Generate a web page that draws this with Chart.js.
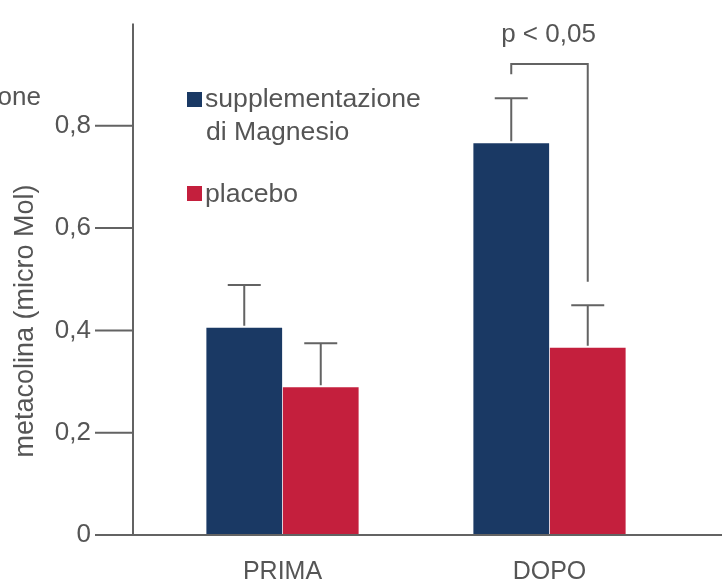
<!DOCTYPE html>
<html>
<head>
<meta charset="utf-8">
<script src="https://cdn.jsdelivr.net/npm/chart.js@4.4.1/dist/chart.umd.min.js"></script>
<style>
  html, body { margin: 0; padding: 0; background: #fff; }
  #wrap { width: 722px; height: 583px; }
</style>
</head>
<body>
<div id="wrap"><canvas id="grafico"></canvas></div>
<script>
// dati
const categorie = ['PRIMA', 'DOPO'];
const serie = ['supplementazione\ndi Magnesio', 'placebo'];
const magnesio = [0.405, 0.766];
const magnesioErr = [0.489, 0.854];
const placebo = [0.289, 0.366];
const placeboErr = [0.375, 0.449];
const yTicks = [0, 0.2, 0.4, 0.6, 0.8];
// parentesi di significatività (DOPO): livello alto, estremo sinistro, estremo destro
const parentesi = [0.921, 0.901, 0.495];
const pTesto = 'p < 0,05';

const grigio = '#636363';
const testo = '#555555';
const blu = '#1a3964';
const rosso = '#c41f3d';
const font = '"Liberation Sans", Arial, sans-serif';

const extra = {
  id: 'extra',
  afterDatasetsDraw(chart) {
    const ctx = chart.ctx;
    const y = chart.scales.y;
    const area = chart.chartArea;
    const m0 = chart.getDatasetMeta(0).data;
    const m1 = chart.getDatasetMeta(1).data;
    ctx.save();
    ctx.strokeStyle = grigio;
    ctx.lineWidth = 2;

    // barre d'errore
    const errori = [[m0, magnesioErr], [m1, placeboErr]];
    errori.forEach(([bars, err]) => {
      bars.forEach((b, i) => {
        const yt = y.getPixelForValue(err[i]);
        ctx.beginPath();
        ctx.moveTo(b.x, b.y - 2);
        ctx.lineTo(b.x, yt);
        ctx.moveTo(b.x - 16.5, yt);
        ctx.lineTo(b.x + 16.5, yt);
        ctx.stroke();
      });
    });

    // parentesi p < 0,05
    const xa = m0[1].x, xb = m1[1].x;
    const yTop = y.getPixelForValue(parentesi[0]);
    ctx.beginPath();
    ctx.moveTo(xa, y.getPixelForValue(parentesi[1]));
    ctx.lineTo(xa, yTop);
    ctx.lineTo(xb, yTop);
    ctx.lineTo(xb, y.getPixelForValue(parentesi[2]));
    ctx.stroke();
    ctx.fillStyle = testo;
    ctx.font = '26px ' + font;
    ctx.textAlign = 'center';
    ctx.textBaseline = 'middle';
    ctx.fillText(pTesto, (xa + xb) / 2 - 1, yTop - 29);

    // assi
    const y0 = y.getPixelForValue(0);
    const ax = 133;
    ctx.beginPath();
    ctx.moveTo(ax, area.top);
    ctx.lineTo(ax, y0);
    yTicks.forEach(v => {
      const yy = y.getPixelForValue(v);
      ctx.moveTo(95, yy);
      ctx.lineTo(ax, yy);
    });
    ctx.moveTo(95, y0);
    ctx.lineTo(chart.width, y0);
    ctx.stroke();

    // titolo asse y
    ctx.save();
    ctx.font = '27px ' + font;
    ctx.translate(26, 321);
    ctx.rotate(-Math.PI / 2);
    ctx.fillText('metacolina (micro Mol)', 0, 0);
    ctx.restore();
    ctx.textAlign = 'right';
    ctx.fillText('one', 41, 98);

    // legenda
    ctx.font = '26.6px ' + font;
    ctx.textAlign = 'left';
    ctx.fillStyle = blu;
    ctx.fillRect(187, 92, 15, 15);
    ctx.fillStyle = rosso;
    ctx.fillRect(187, 186, 15, 15);
    ctx.fillStyle = testo;
    const righe = serie[0].split('\n');
    ctx.fillText(righe[0], 205, 100);
    ctx.fillText(righe[1], 206, 133);
    ctx.fillText(serie[1], 205, 195);
    ctx.restore();
  }
};

new Chart(document.getElementById('grafico'), {
  type: 'bar',
  data: {
    labels: categorie,
    datasets: [
      { label: serie[0], data: magnesio, backgroundColor: blu },
      { label: serie[1], data: placebo, backgroundColor: rosso }
    ]
  },
  plugins: [extra],
  options: {
    responsive: true,
    maintainAspectRatio: false,
    animation: false,
    categoryPercentage: 0.573,
    barPercentage: 0.99,
    layout: { padding: { top: 23.5, right: 39, left: 0, bottom: 0 } },
    plugins: { legend: { display: false }, tooltip: { enabled: false } },
    scales: {
      x: {
        offset: true,
        grid: { display: false, drawTicks: false },
        border: { display: false },
        ticks: { color: testo, font: { size: 25, family: font }, padding: 22 },
        afterFit(scale) { scale.height = 48; }
      },
      y: {
        min: 0,
        max: 1,
        grid: { display: false, drawTicks: true, tickLength: 58 },
        border: { display: false },
        afterBuildTicks(scale) {
          scale.ticks = yTicks.map(v => ({ value: v }));
        },
        ticks: {
          color: testo,
          font: { size: 26, family: font },
          padding: 0,
          callback: v => String(v).replace('.', ',')
        },
        afterFit(scale) { scale.width = 149; }
      }
    }
  }
});
</script>
</body>
</html>
